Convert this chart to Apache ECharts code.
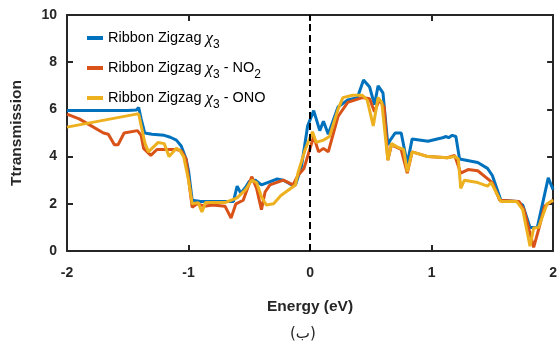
<!DOCTYPE html>
<html>
<head>
<meta charset="utf-8">
<script src="https://cdn.jsdelivr.net/npm/echarts@6/dist/echarts.min.js"></script>
<style>html,body{margin:0;padding:0;background:#fff;}#c{width:560px;height:347px;}</style>
</head>
<body>
<div id="c"></div>
<script>
// ---- data ----
var xTicks = [-2, -1, 0, 1, 2];
var yTicks = [0, 2, 4, 6, 8, 10];
var seriesNames = ['Ribbon Zigzag χ3', 'Ribbon Zigzag χ3 - NO2', 'Ribbon Zigzag χ3 - ONO'];

var blueE = [-2, -1.5, -1.43, -1.41, -1.39, -1.36, -1.3, -1.2, -1.15, -1.1, -1.06, -1.02, -1.0, -0.97, -0.9, -0.8, -0.7, -0.63, -0.6, -0.57, -0.53, -0.5, -0.45, -0.4, -0.35, -0.27, -0.22, -0.15, -0.12, -0.07, -0.02, 0.03, 0.08, 0.11, 0.15, 0.23, 0.31, 0.39, 0.44, 0.49, 0.53, 0.56, 0.6, 0.64, 0.66, 0.7, 0.75, 0.8, 0.84, 0.97, 1.09, 1.12, 1.14, 1.17, 1.2, 1.23, 1.38, 1.46, 1.5, 1.57, 1.7, 1.75, 1.81, 1.87, 1.96, 2.0];
var blueT = [5.95, 5.95, 5.97, 6.08, 5.6, 5.0, 4.95, 4.9, 4.82, 4.7, 4.45, 3.9, 3.4, 2.15, 2.1, 2.1, 2.1, 2.1, 2.75, 2.45, 2.7, 2.95, 3.0, 2.8, 2.9, 3.05, 3.0, 2.8, 2.8, 3.6, 5.3, 5.95, 5.1, 5.5, 4.95, 6.1, 6.4, 6.5, 7.25, 6.95, 6.2, 7.0, 6.7, 4.5, 4.7, 5.0, 5.0, 3.7, 4.75, 4.65, 4.8, 4.85, 4.8, 4.9, 4.85, 3.9, 3.75, 3.5, 3.2, 2.15, 2.1, 1.95, 1.0, 1.0, 3.1, 2.6];

var orangeE = [-2, -1.9, -1.8, -1.7, -1.66, -1.61, -1.58, -1.53, -1.42, -1.39, -1.37, -1.31, -1.26, -1.1, -1.06, -1.02, -0.97, -0.93, -0.87, -0.8, -0.7, -0.65, -0.61, -0.55, -0.48, -0.44, -0.4, -0.37, -0.33, -0.22, -0.14, -0.1, -0.05, 0.03, 0.07, 0.11, 0.15, 0.23, 0.31, 0.43, 0.49, 0.53, 0.57, 0.61, 0.64, 0.67, 0.75, 0.8, 0.84, 0.97, 1.13, 1.19, 1.24, 1.3, 1.38, 1.5, 1.56, 1.72, 1.76, 1.84, 1.88, 1.93, 2.0];
var orangeT = [5.8, 5.6, 5.3, 5.0, 4.95, 4.5, 4.5, 5.0, 5.1, 4.9, 4.35, 4.05, 4.3, 4.3, 4.25, 3.9, 1.85, 2.0, 1.9, 1.95, 1.9, 1.4, 2.0, 2.15, 3.15, 2.65, 1.75, 2.5, 2.8, 3.0, 2.8, 3.2, 3.5, 4.85, 4.2, 4.35, 4.2, 5.7, 6.3, 6.5, 6.45, 5.9, 6.4, 6.1, 3.85, 4.5, 4.3, 3.3, 4.2, 4.0, 3.95, 4.05, 3.3, 3.45, 3.4, 2.9, 2.15, 2.1, 1.75, 0.15, 0.9, 1.9, 2.15];

var yellowE = [-2, -1.43, -1.41, -1.36, -1.33, -1.25, -1.2, -1.16, -1.1, -1.07, -1.04, -1.0, -0.97, -0.92, -0.89, -0.86, -0.7, -0.6, -0.53, -0.48, -0.44, -0.4, -0.36, -0.3, -0.24, -0.16, -0.12, -0.1, -0.04, 0.02, 0.05, 0.11, 0.16, 0.23, 0.27, 0.35, 0.43, 0.47, 0.52, 0.56, 0.59, 0.64, 0.67, 0.72, 0.77, 0.8, 0.84, 0.97, 1.13, 1.19, 1.22, 1.24, 1.27, 1.38, 1.46, 1.49, 1.53, 1.57, 1.7, 1.75, 1.81, 1.84, 1.88, 1.95, 2.0];
var yellowT = [5.25, 5.8, 5.8, 4.6, 4.2, 4.6, 4.55, 4.0, 4.35, 4.25, 4.0, 3.0, 2.0, 2.05, 1.65, 2.05, 2.05, 2.25, 2.6, 3.0, 2.9, 2.3, 1.95, 2.0, 2.35, 2.65, 2.8, 3.3, 4.3, 5.05, 4.6, 4.7, 4.85, 6.0, 6.5, 6.6, 6.6, 6.4, 5.3, 6.5, 6.3, 3.85, 4.55, 4.4, 4.3, 3.35, 4.2, 4.0, 3.95, 4.0, 3.9, 2.65, 3.0, 2.9, 2.75, 2.9, 2.5, 2.1, 2.1, 1.75, 0.2, 0.97, 1.0, 2.0, 2.15];

function pairs(xs, ys) { return xs.map(function (x, i) { return [x, ys[i]]; }); }

var legendRich = {
  '0': '{t|Ribbon Zigzag }{c|χ}{s|3}',
  '1': '{t|Ribbon Zigzag }{c|χ}{s|3}{t| - NO}{s|2}',
  '2': '{t|Ribbon Zigzag }{c|χ}{s|3}{t| - ONO}'
};

var axisColor = '#262626';
var chart = echarts.init(document.getElementById('c'), null, {renderer: 'canvas'});
var tickFont = {fontFamily: 'Liberation Sans', fontWeight: 'bold', fontSize: 14, color: axisColor};
function tick() { return {show: true, inside: true, length: 6, lineStyle: {color: axisColor, width: 2, opacity: 1}}; }
function line() { return {show: true, onZero: false, lineStyle: {color: axisColor, width: 2}}; }

chart.setOption({
  animation: false,
  backgroundColor: '#fff',
  grid: {left: 67, right: 4, top: 15, bottom: 96, containLabel: false},
  legend: {
    orient: 'vertical', left: 82, top: 25, itemGap: 9,
    icon: 'rect', itemWidth: 16, itemHeight: 4,
    data: seriesNames,
    formatter: function (name) { return legendRich[seriesNames.indexOf(name)]; },
    textStyle: {
      rich: {
        t: {fontFamily: 'Liberation Sans', fontSize: 14.5, color: '#000', verticalAlign: 'top', lineHeight: 16},
        c: {fontFamily: 'Liberation Serif', fontStyle: 'italic', fontSize: 17, color: '#000', verticalAlign: 'top', lineHeight: 16},
        s: {fontFamily: 'Liberation Sans', fontSize: 12, color: '#000', verticalAlign: 'top', lineHeight: 12, padding: [9, 0, 0, 0]}
      }
    }
  },
  xAxis: [{
    type: 'value', min: -2, max: 2, interval: 1, position: 'bottom', gridIndex: 0,
    name: 'Energy (eV)', nameLocation: 'middle', nameGap: 48,
    nameTextStyle: {fontFamily: 'Liberation Sans', fontWeight: 'bold', fontSize: 15.5, color: axisColor},
    axisLine: line(),
    axisTick: tick(),
    axisLabel: Object.assign({margin: 15, formatter: function (v) { return String(v); }}, tickFont),
    splitLine: {show: false}
  }, {
    type: 'value', min: -2, max: 2, interval: 1, position: 'top', gridIndex: 0,
    axisLine: line(),
    axisTick: tick(),
    axisLabel: {show: false}, splitLine: {show: false}
  }],
  yAxis: [{
    type: 'value', min: 0, max: 10, interval: 2, position: 'left', gridIndex: 0,
    name: 'Ttransmission', nameLocation: 'middle', nameGap: 42,
    nameTextStyle: {fontFamily: 'Liberation Sans', fontWeight: 'bold', fontSize: 15.5, color: axisColor},
    axisLine: line(),
    axisTick: tick(),
    axisLabel: Object.assign({margin: 10}, tickFont),
    splitLine: {show: false}
  }, {
    type: 'value', min: 0, max: 10, interval: 2, position: 'right', gridIndex: 0,
    axisLine: line(),
    axisTick: tick(),
    axisLabel: {show: false}, splitLine: {show: false}
  }],
  series: [{
    name: seriesNames[0], type: 'line', data: pairs(blueE, blueT), showSymbol: false, symbol: 'none',
    color: '#0072BD', lineStyle: {width: 3, color: '#0072BD'}, z: 2,
    markLine: {
      silent: true, symbol: ['none', 'none'], label: {show: false},
      lineStyle: {color: '#000', type: [7, 4], width: 2},
      data: [{xAxis: 0}]
    }
  }, {
    name: seriesNames[1], type: 'line', data: pairs(orangeE, orangeT), showSymbol: false, symbol: 'none',
    color: '#D95319', lineStyle: {width: 3, color: '#D95319'}, z: 3
  }, {
    name: seriesNames[2], type: 'line', data: pairs(yellowE, yellowT), showSymbol: false, symbol: 'none',
    color: '#EDB120', lineStyle: {width: 3, color: '#EDB120'}, z: 4
  }],
  graphic: [{
    type: 'text', left: 290, top: 327,
    style: {text: '(ب)', font: '15px "DejaVu Sans"', fill: axisColor}
  }]
});
</script>
</body>
</html>
